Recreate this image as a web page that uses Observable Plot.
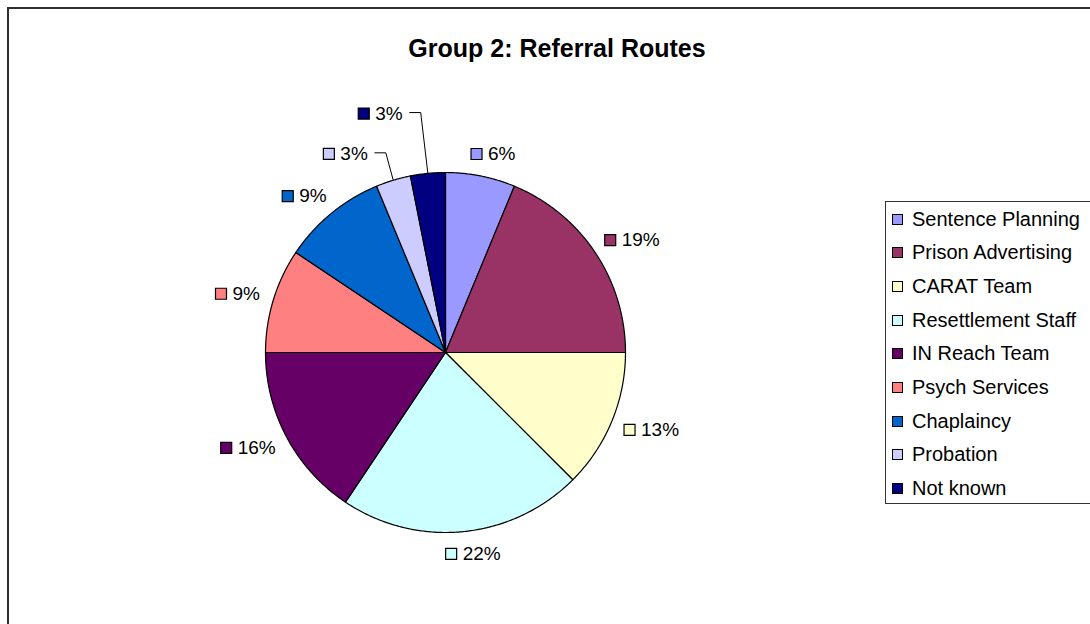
<!DOCTYPE html>
<html>
<head>
<meta charset="utf-8">
<script src="https://cdn.jsdelivr.net/npm/d3@7"></script>
<script src="https://cdn.jsdelivr.net/npm/@observablehq/plot@0.6"></script>
<style>
html, body { margin: 0; padding: 0; background: #fff; overflow: hidden; width: 1090px; height: 624px; }
#wrap { position: relative; width: 1090px; height: 624px; font-family: "Liberation Sans", Arial, sans-serif; overflow: hidden; }
#frame { position: absolute; left: 7px; top: 7px; width: 1110px; height: 700px; border: 2px solid #2e2e2e; box-sizing: border-box; }
#title { position: absolute; left: 557px; top: 35px; transform: translateX(-50%); white-space: nowrap; font-weight: bold; font-size: 25px; line-height: 26px; color: #000; }
#chart { position: absolute; left: 0; top: 0; }
#legend { position: absolute; left: 885px; top: 201px; width: 240px; height: 303px; border: 1px solid #333; box-sizing: border-box; background: #fff; }
.item { position: absolute; left: 6px; height: 22px; display: flex; align-items: center; white-space: nowrap; font-size: 20px; color: #000; }
.sw { width: 9px; height: 9px; border: 1px solid #000; margin-right: 9px; flex: none; }
</style>
</head>
<body>
<div id="wrap">
  <div id="frame"></div>
  <div id="chart"></div>
  <div id="title"></div>
  <div id="legend"></div>
</div>
<script>
// ---- data ----
const chartTitle = "Group 2: Referral Routes";
const categories = ["Sentence Planning", "Prison Advertising", "CARAT Team", "Resettlement Staff", "IN Reach Team", "Psych Services", "Chaplaincy", "Probation", "Not known"];
const shares = [6.25, 18.75, 12.5, 21.875, 15.625, 9.375, 9.375, 3.125, 3.125];
const shareLabels = ["6%", "19%", "13%", "22%", "16%", "9%", "9%", "3%", "3%"];
const colors = ["#9999FF", "#993366", "#FFFFCC", "#CCFFFF", "#660066", "#FF8080", "#0066CC", "#CCCCFF", "#000080"];

// ---- layout ----
const W = 1090, H = 624;
const CX = 445, CY = 352, R = 180;            // pie centre and radius in px
const LABEL_SIZE = 19;
const labelFont = LABEL_SIZE + "px 'Liberation Sans', Arial, sans-serif";
const labelNudge = { "Probation": [-31.5, -5], "Not known": [-39, -37.5] }; // Excel moved these labels (px)

document.getElementById("title").textContent = chartTitle;

// pie angles (clockwise from 12 o'clock)
const pie = d3.pie().sort(null).value(d => d)(shares);

// slice outlines in unit coordinates (radius 1, y up)
const slicePts = [];
pie.forEach((p, i) => {
  const n = Math.max(2, Math.ceil((p.endAngle - p.startAngle) / (Math.PI / 360)));
  slicePts.push({cat: categories[i], x: 0, y: 0});
  for (let k = 0; k <= n; k++) {
    const t = p.startAngle + (p.endAngle - p.startAngle) * k / n;
    slicePts.push({cat: categories[i], x: Math.sin(t), y: Math.cos(t)});
  }
  slicePts.push({cat: categories[i], x: 0, y: 0});
});

// label placement
const ctx = document.createElement("canvas").getContext("2d");
ctx.font = labelFont;
const SQ = 11, GAP = 6, LH = 16;
const labels = [], leaders = [];
pie.forEach((p, i) => {
  const m = (p.startAngle + p.endAngle) / 2;
  const tw = ctx.measureText(shareLabels[i]).width;
  const gw = SQ + GAP + tw;
  const s = Math.sin(m), c = Math.cos(m);
  let cx = 1.08 * R * s + (gw / 2) * Math.sign(s) * Math.sqrt(Math.abs(s));
  let cy = -1.08 * R * c - (LH / 2) * c;
  const nud = labelNudge[categories[i]];
  if (nud) { cx += nud[0]; cy += nud[1]; }
  const left = cx - gw / 2;
  labels.push({cat: categories[i], label: shareLabels[i],
    sx: (left + SQ / 2) / R, sy: -cy / R,
    tx: (left + SQ + GAP) / R, ty: -cy / R});
  if (nud) {
    const right = left + gw;
    const ly = cy - 1;
    leaders.push({id: i, x: (right + 7) / R, y: -ly / R});
    leaders.push({id: i, x: (right + 18) / R, y: -ly / R});
    leaders.push({id: i, x: s, y: c});
  }
});

const chart = Plot.plot({
  width: W, height: H,
  marginTop: 0, marginRight: 0, marginBottom: 0, marginLeft: 0,
  x: {domain: [-CX / R, (W - CX) / R], axis: null},
  y: {domain: [-(H - CY) / R, CY / R], axis: null},
  color: {domain: categories, range: colors},
  style: {background: "transparent", overflow: "visible"},
  marks: [
    Plot.line(slicePts, {x: "x", y: "y", z: "cat", fill: "cat", stroke: "#000", strokeWidth: 1.2, curve: "linear", strokeLinejoin: "round"}),
    Plot.line(leaders, {x: "x", y: "y", z: "id", stroke: "#000", strokeWidth: 1}),
    Plot.dot(labels, {x: "sx", y: "sy", symbol: "square", r: SQ / Math.sqrt(Math.PI), fill: "cat", stroke: "#000", strokeWidth: 1.2}),
    Plot.text(labels, {x: "tx", y: "ty", text: "label", textAnchor: "start", fontSize: LABEL_SIZE, fill: "#000", fontFamily: "'Liberation Sans', Arial, sans-serif"})
  ]
});
document.getElementById("chart").appendChild(chart);

// legend
const leg = document.getElementById("legend");
categories.forEach((c, i) => {
  const d = document.createElement("div");
  d.className = "item";
  d.style.top = (6 + i * 33.7) + "px";
  const sw = document.createElement("div");
  sw.className = "sw";
  sw.style.background = colors[i];
  const t = document.createElement("span");
  t.textContent = c;
  d.appendChild(sw); d.appendChild(t);
  leg.appendChild(d);
});
</script>
</body>
</html>
